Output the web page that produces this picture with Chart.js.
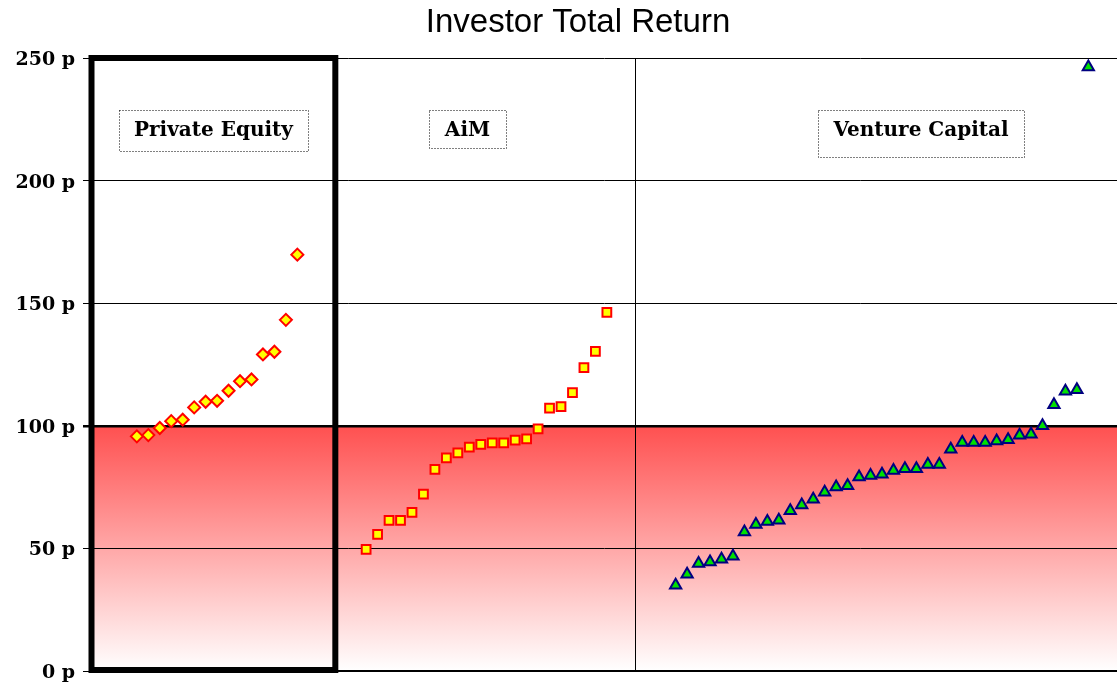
<!DOCTYPE html>
<html>
<head>
<meta charset="utf-8">
<title>Investor Total Return</title>
<script src="https://cdn.jsdelivr.net/npm/chart.js@4.4.1/dist/chart.umd.min.js"></script>
<style>
  html, body { margin: 0; padding: 0; background: #fff; }
  #wrap { width: 1117px; height: 684px; }
</style>
</head>
<body>
<div id="wrap"><canvas id="returnChart"></canvas></div>
<script>
  // total return per fund in pence (per 100p invested), sorted low to high
  const groupNames = ['Private Equity', 'AiM', 'Venture Capital'];
  const privateEquity = [95.7, 96.2, 99.1, 101.9, 102.5, 107.5, 109.8, 110.2, 114.3, 118.2, 118.9, 129.1, 130.2, 143.2, 169.8];
  const aim = [49.6, 55.7, 61.4, 61.4, 64.7, 72.1, 82.2, 86.9, 89.0, 91.3, 92.4, 93.0, 93.0, 94.2, 94.7, 98.7, 107.2, 107.8, 113.5, 123.7, 130.4, 146.3];
  const ventureCapital = [35.0, 39.5, 43.8, 44.5, 45.6, 46.8, 56.7, 59.7, 61.0, 61.5, 65.4, 67.7, 70.0, 72.9, 75.0, 75.6, 79.1, 79.7, 80.2, 81.8, 82.5, 82.5, 84.2, 84.2, 90.4, 93.2, 93.2, 93.2, 93.8, 94.3, 96.1, 96.6, 100.0, 108.6, 114.1, 114.7, 246.3];
  const yTicks = [0, 50, 100, 150, 200, 250];

  // slot where each group starts on the x axis, and the group dividers
  const groupStart = [4, 24, 51];
  const dividers = [21.4, 47.5];
  const xMax = 89.5;

  const toPoints = (vals, start) => vals.map((v, i) => ({ x: start + i, y: v }));

  // red zone under 100p, fading to white at 0
  const redZone = {
    id: 'redZone',
    beforeDraw(chart) {
      const { ctx, chartArea, scales } = chart;
      const top = scales.y.getPixelForValue(100);
      const bottom = scales.y.getPixelForValue(0);
      ctx.save();
      ctx.fillStyle = '#fff';
      ctx.fillRect(0, 0, chart.width, chart.height);
      const grad = ctx.createLinearGradient(0, top, 0, bottom);
      grad.addColorStop(0, 'rgb(255,80,80)');
      grad.addColorStop(1, 'rgb(255,255,255)');
      ctx.fillStyle = grad;
      ctx.fillRect(chartArea.left, top, chartArea.right - chartArea.left, bottom - top);
      ctx.restore();
    }
  };

  // title, highlighted private equity panel and the group labels
  const decorations = {
    id: 'decorations',
    afterDraw(chart) {
      const { ctx, chartArea, scales } = chart;
      ctx.save();

      ctx.fillStyle = '#000';
      ctx.font = '33px "Liberation Sans", Arial, sans-serif';
      ctx.textAlign = 'center';
      ctx.textBaseline = 'middle';
      ctx.fillText('Investor Total Return', 578, 23);

      ctx.lineWidth = 6;
      ctx.strokeStyle = '#000';
      const px = scales.x.getPixelForValue(dividers[0]);
      ctx.strokeRect(chartArea.left + 0.5, chartArea.top, px - chartArea.left - 1.5, chartArea.bottom - chartArea.top - 1);

      const boxes = [
        { x1: 119, x2: 308, y1: 110, y2: 151 },
        { x1: 429, x2: 506, y1: 110, y2: 148 },
        { x1: 818, x2: 1024, y1: 110, y2: 157 }
      ];
      ctx.font = 'bold 20px "DejaVu Serif", serif';
      boxes.forEach((b, i) => {
        ctx.fillStyle = '#fff';
        ctx.fillRect(b.x1, b.y1, b.x2 - b.x1, b.y2 - b.y1);
        ctx.setLineDash([1, 2]);
        ctx.lineWidth = 1;
        ctx.strokeStyle = '#000';
        ctx.strokeRect(b.x1 + 0.5, b.y1 + 0.5, b.x2 - b.x1, b.y2 - b.y1);
        ctx.setLineDash([]);
        ctx.fillStyle = '#000';
        ctx.fillText(groupNames[i], (b.x1 + b.x2) / 2, 131);
      });
      ctx.restore();
    }
  };

  const chart = new Chart(document.getElementById('returnChart'), {
    type: 'scatter',
    data: {
      datasets: [{
        label: groupNames[0],
        data: toPoints(privateEquity, groupStart[0]),
        pointStyle: 'rectRot',
        pointRadius: 6,
        backgroundColor: '#ffff00',
        borderColor: '#ff0000',
        borderWidth: 2
      }, {
        label: groupNames[1],
        data: toPoints(aim, groupStart[1]),
        pointStyle: 'rect',
        pointRadius: 6.2,
        backgroundColor: '#ffff00',
        borderColor: '#ff0000',
        borderWidth: 2
      }, {
        label: groupNames[2],
        data: toPoints(ventureCapital, groupStart[2]),
        pointStyle: 'triangle',
        pointRadius: 6.5,
        backgroundColor: '#00e000',
        borderColor: '#000080',
        borderWidth: 2
      }]
    },
    options: {
      responsive: true,
      maintainAspectRatio: false,
      animation: false,
      events: [],
      layout: { autoPadding: false, padding: { top: 58, left: 0, right: 0, bottom: 0 } },
      plugins: {
        legend: { display: false },
        tooltip: { enabled: false }
      },
      scales: {
        x: {
          type: 'linear',
          min: 0,
          max: xMax,
          afterBuildTicks: (scale) => { scale.ticks = dividers.map(v => ({ value: v })); },
          afterFit: (scale) => { scale.height = 13; },
          ticks: { display: false },
          grid: { color: '#000', lineWidth: 1, drawTicks: false },
          border: { display: true, color: '#000', width: 2 }
        },
        y: {
          min: 0,
          max: 250,
          afterBuildTicks: (scale) => { scale.ticks = yTicks.map(v => ({ value: v })); },
          afterFit: (scale) => {
            scale.width = 91;
            scale.paddingTop = 0;
            scale.paddingBottom = 0;
          },
          ticks: {
            color: '#000',
            padding: 8,
            labelOffset: 2,
            font: { family: '"DejaVu Serif", serif', weight: 'bold', size: 19 },
            callback: (v) => v + ' p'
          },
          grid: {
            color: '#000',
            lineWidth: (c) => (c.tick && c.tick.value === 100 ? 2.5 : 1),
            tickLength: 8
          },
          border: { display: true, color: '#000', width: 1 }
        }
      }
    },
    plugins: [redZone, decorations]
  });
</script>
</body>
</html>
